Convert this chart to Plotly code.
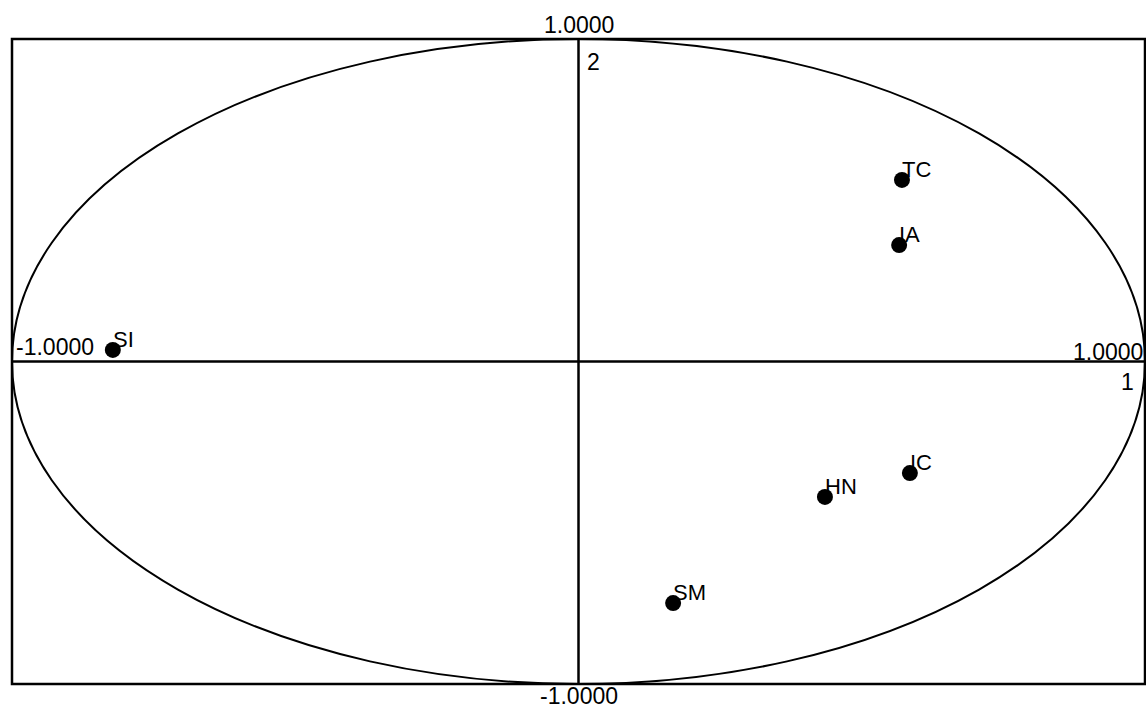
import plotly.graph_objects as go

labels = ["SI", "TC", "IA", "IC", "HN", "SM"]
dim1 = [-0.822, 0.571, 0.566, 0.585, 0.435, 0.167]
dim2 = [0.036, 0.563, 0.361, -0.346, -0.420, -0.749]

FONT = "Arial, Liberation Sans, sans-serif"

fig = go.Figure()
fig.add_trace(go.Scatter(
    x=dim1, y=dim2, mode="markers",
    marker=dict(size=16, color="black"),
    hoverinfo="text", text=labels, showlegend=False,
))

shapes = [
    dict(type="circle", xref="x", yref="y", x0=-1, x1=1, y0=-1, y1=1,
         line=dict(color="black", width=2)),
    dict(type="line", xref="x", yref="y", x0=-1, x1=1, y0=0, y1=0,
         line=dict(color="black", width=2.5)),
    dict(type="line", xref="x", yref="y", x0=0, x1=0, y0=-1, y1=1,
         line=dict(color="black", width=2.5)),
    dict(type="rect", xref="paper", yref="paper", x0=0, x1=1, y0=0, y1=1,
         line=dict(color="black", width=2.5)),
]

lf = dict(family=FONT, size=22, color="black")
annotations = []
for lab, x, y in zip(labels, dim1, dim2):
    annotations.append(dict(x=x, y=y, xref="x", yref="y", text=lab,
                            showarrow=False, xanchor="left", yanchor="bottom",
                            xshift=-2, yshift=-4, font=lf))

af = dict(family=FONT, size=23, color="black")
annotations += [
    dict(x=0, y=1, xref="x", yref="paper", text="1.0000", showarrow=False,
         xanchor="center", yanchor="bottom", yshift=-1, font=af),
    dict(x=0, y=1, xref="x", yref="paper", text="2", showarrow=False,
         xanchor="left", yanchor="top", xshift=6, yshift=-8, font=af),
    dict(x=0, y=0, xref="x", yref="paper", text="-1.0000", showarrow=False,
         xanchor="center", yanchor="top", yshift=3, font=af),
    dict(x=1, y=0, xref="paper", yref="y", text="1.0000", showarrow=False,
         xanchor="right", yanchor="bottom", xshift=0, yshift=-5, font=af),
    dict(x=1, y=0, xref="paper", yref="y", text="1", showarrow=False,
         xanchor="right", yanchor="top", xshift=-9, yshift=-5, font=af),
    dict(x=0, y=0, xref="paper", yref="y", text="-1.0000", showarrow=False,
         xanchor="left", yanchor="bottom", xshift=2, yshift=0, font=af),
]

fig.update_layout(
    width=1146, height=709,
    margin=dict(l=12, r=1, t=39, b=25),
    paper_bgcolor="white", plot_bgcolor="white",
    xaxis=dict(range=[-1, 1], showgrid=False, zeroline=False,
               showticklabels=False, ticks="", showline=False),
    yaxis=dict(range=[-1, 1], showgrid=False, zeroline=False,
               showticklabels=False, ticks="", showline=False),
    shapes=shapes, annotations=annotations,
    font=dict(family=FONT, color="black"),
)

fig.write_html("out.html", config={"displayModeBar": False},
               post_script="document.body.style.margin='0';document.body.style.overflow='hidden';")
